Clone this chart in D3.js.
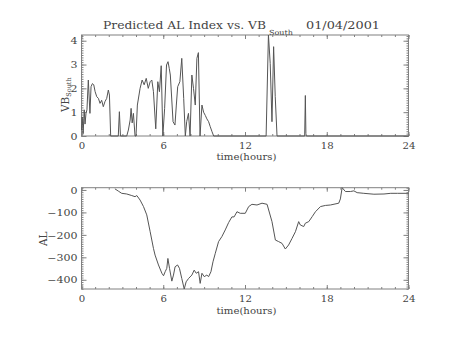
<!DOCTYPE html>
<html><head><meta charset="utf-8">
<script src="https://cdn.jsdelivr.net/npm/d3@7"></script>
<style>
html,body{margin:0;padding:0;background:#fff;}
svg{display:block;}
text{font-family:"DejaVu Serif","Liberation Serif",serif;fill:#444;}
</style></head>
<body>
<script>
// ---- data ----
const vbTime = [0.00,0.05,0.12,0.20,0.26,0.33,0.40,0.50,0.62,0.70,0.80,0.90,1.00,1.12,1.24,1.36,1.48,1.60,1.72,1.85,1.97,2.05,2.14,2.70,2.78,2.86,3.32,3.44,3.57,3.64,3.72,3.81,3.93,4.00,4.10,4.30,4.45,4.60,4.75,4.90,5.04,5.16,5.28,5.45,5.60,5.72,5.85,5.97,6.10,6.24,6.35,6.44,6.52,6.72,6.86,6.96,7.06,7.22,7.36,7.50,7.62,7.72,7.85,7.97,8.10,8.22,8.35,8.47,8.58,8.70,8.84,8.96,9.09,9.20,9.33,9.45,9.58,9.70,13.55,13.72,13.85,13.98,14.10,14.22,14.35,16.38,16.43,16.47,16.50,24.00];
const vbSouth = [0.25,0.8,0.1,1.1,0.5,0.95,1.1,2.35,0.95,2.07,2.2,2.15,1.86,1.65,1.58,1.37,1.5,1.23,1.44,1.58,1.93,1.72,0,0,1.02,0,0,0.25,0.67,1.16,0.55,0.95,0,0,1.3,2.0,2.35,2.15,2.42,2.0,2.28,2.35,1.86,0.3,2.28,1.86,2.95,0,1.15,2.98,3.12,2.84,2.56,0.6,0.46,1.3,2.07,2.28,3.26,1.58,0,0.6,0.95,0,2.56,2.0,1.3,3.26,3.5,0,1.3,1.0,0.86,0.72,0.6,0.39,0.18,0,0,4.24,3.05,0.6,3.75,1.65,0,0,1.7,0.1,0,0];

const alTime = [2.45,2.7,2.95,3.32,3.69,3.93,4.06,4.3,4.55,4.79,5.04,5.28,5.4,5.65,5.9,6.02,6.14,6.26,6.34,6.46,6.63,6.75,6.87,7.05,7.19,7.36,7.54,7.68,7.86,8.1,8.27,8.42,8.59,8.71,8.84,9.01,9.2,9.33,9.5,9.65,9.82,10.06,10.3,10.55,10.8,11.04,11.2,11.41,11.65,12.02,12.27,12.51,12.88,13.25,13.62,13.98,14.23,14.47,14.72,14.96,15.2,15.45,15.7,15.94,16.06,16.31,16.43,16.68,16.93,17.17,17.54,17.9,18.27,18.88,19.0,19.13,19.37,19.74,19.99,20.23,20.72,21.46,22.2,22.7,23.18,24];
const alIndex = [5,-5,-15,-18,-25,-30,-25,-45,-74,-111,-186,-260,-290,-334,-371,-382,-364,-349,-305,-349,-406,-379,-342,-334,-349,-394,-441,-409,-394,-379,-357,-371,-364,-416,-371,-386,-379,-386,-364,-320,-282,-230,-208,-178,-145,-120,-120,-97,-104,-104,-74,-64,-67,-59,-64,-141,-223,-230,-238,-263,-245,-216,-186,-141,-156,-163,-148,-141,-119,-97,-74,-69,-67,-59,-40,10,-7,-7,-4,-12,-15,-19,-18,-15,-15,-15];

const xTicks = [0,6,12,18,24];
const xMinor = d3.range(0,25,1);
const vbTicks = [0,1,2,3,4];
const alTicks = [0,-100,-200,-300,-400];
const titleMain = "Predicted AL Index vs. VB";
const titleSub = "South";
const titleDate = "01/04/2001";
const xLabel = "time(hours)";

// ---- layout ----
const W = 454, H = 341;
const svg = d3.select("body").append("svg").attr("width",W).attr("height",H);
svg.append("rect").attr("width",W).attr("height",H).attr("fill","#fff");

const left = 81.5, right = 408.5;
const x = d3.scaleLinear().domain([0,24]).range([left,right]);

const panels = [
  {top:35, bottom:136, t:vbTime, v:vbSouth, ticks:vbTicks, minorStep:0.1, xlabBase:148.8, xtitleBase:160},
  {top:187.7, bottom:289, t:alTime, v:alIndex, ticks:alTicks, minorStep:10, xlabBase:301.5, xtitleBase:313.5}
];

const AX = "#808080", LINE = "#555";
const TFS = 8.8;

function widen(sel, k){
  sel.each(function(){
    const w = this.getComputedTextLength();
    d3.select(this).attr("textLength", w*k).attr("lengthAdjust","spacingAndGlyphs");
  });
}

panels.forEach((p,i)=>{
  const ext = d3.extent(p.v);
  const y = d3.scaleLinear().domain(ext).range([p.bottom,p.top]);
  const g = svg.append("g");
  const yMinor = d3.range(Math.ceil(ext[0]/p.minorStep)*p.minorStep, ext[1]+1e-9, p.minorStep);
  function styleAxis(sel){ sel.select(".domain").remove(); sel.selectAll("line").attr("stroke",AX); }
  g.append("g").attr("transform",`translate(${left},0)`).call(d3.axisLeft(y).tickValues(yMinor).tickSize(-2).tickFormat("")).call(styleAxis);
  g.append("g").attr("transform",`translate(${right},0)`).call(d3.axisRight(y).tickValues(yMinor).tickSize(-2).tickFormat("")).call(styleAxis);
  const yl = g.append("g").attr("transform",`translate(${left},0)`)
    .call(d3.axisLeft(y).tickValues(p.ticks).tickSize(-5).tickPadding(4).tickFormat(d=>d<0?"\u2212"+Math.abs(d):String(d)))
    .call(styleAxis);
  yl.selectAll("text").attr("font-size",TFS).attr("fill","#444").attr("font-family",'"DejaVu Serif",serif').attr("dy","0.36em");
  widen(yl.selectAll("text"),1.25);
  g.append("g").attr("transform",`translate(${right},0)`).call(d3.axisRight(y).tickValues(p.ticks).tickSize(-5).tickFormat("")).call(styleAxis);
  g.append("g").attr("transform",`translate(0,${p.bottom})`).call(d3.axisBottom(x).tickValues(xMinor).tickSize(-2).tickFormat("")).call(styleAxis);
  g.append("g").attr("transform",`translate(0,${p.top})`).call(d3.axisTop(x).tickValues(xMinor).tickSize(-2).tickFormat("")).call(styleAxis);
  const xl = g.append("g").attr("transform",`translate(0,${p.bottom})`)
    .call(d3.axisBottom(x).tickValues(xTicks).tickSize(-4).tickPadding(p.xlabBase-p.bottom-TFS*0.71)).call(styleAxis);
  xl.selectAll("text").attr("font-size",TFS).attr("fill","#444").attr("font-family",'"DejaVu Serif",serif');
  widen(xl.selectAll("text"),1.15);
  g.append("g").attr("transform",`translate(0,${p.top})`).call(d3.axisTop(x).tickValues(xTicks).tickSize(-4).tickFormat("")).call(styleAxis);
  g.append("rect").attr("x",left).attr("y",p.top).attr("width",right-left).attr("height",p.bottom-p.top)
    .attr("fill","none").attr("stroke",AX).attr("stroke-width",1);
  const pts = p.t.map((t,k)=>[t,p.v[k]]);
  g.append("path").datum(pts).attr("fill","none").attr("stroke",LINE).attr("stroke-width",1)
    .attr("d",d3.line().x(d=>x(d[0])).y(d=>y(d[1])));
  g.append("text").attr("x",(left+right)/2 + 1.5).attr("y",p.xtitleBase).attr("text-anchor","middle")
    .attr("font-size",9).attr("textLength",60).attr("lengthAdjust","spacingAndGlyphs").text(xLabel);
});

// y titles
const vbLab = svg.append("text").attr("transform","translate(69,112) rotate(-90)").attr("font-size",10.5);
vbLab.append("tspan").text("VB");
vbLab.append("tspan").attr("font-size",6.5).attr("dy",2).text("South");
svg.append("text").attr("transform","translate(47,246) rotate(-90)").attr("font-size",10.5).text("AL");

// title
svg.append("text").attr("x",103).attr("y",29).attr("font-size",11.5)
  .attr("textLength",163).attr("lengthAdjust","spacingAndGlyphs").text(titleMain);
svg.append("text").attr("x",269).attr("y",35).attr("font-size",7)
  .attr("textLength",24).attr("lengthAdjust","spacingAndGlyphs").text(titleSub);
svg.append("text").attr("x",306).attr("y",29).attr("font-size",11.5)
  .attr("textLength",74).attr("lengthAdjust","spacingAndGlyphs").text(titleDate);
</script>
</body></html>
